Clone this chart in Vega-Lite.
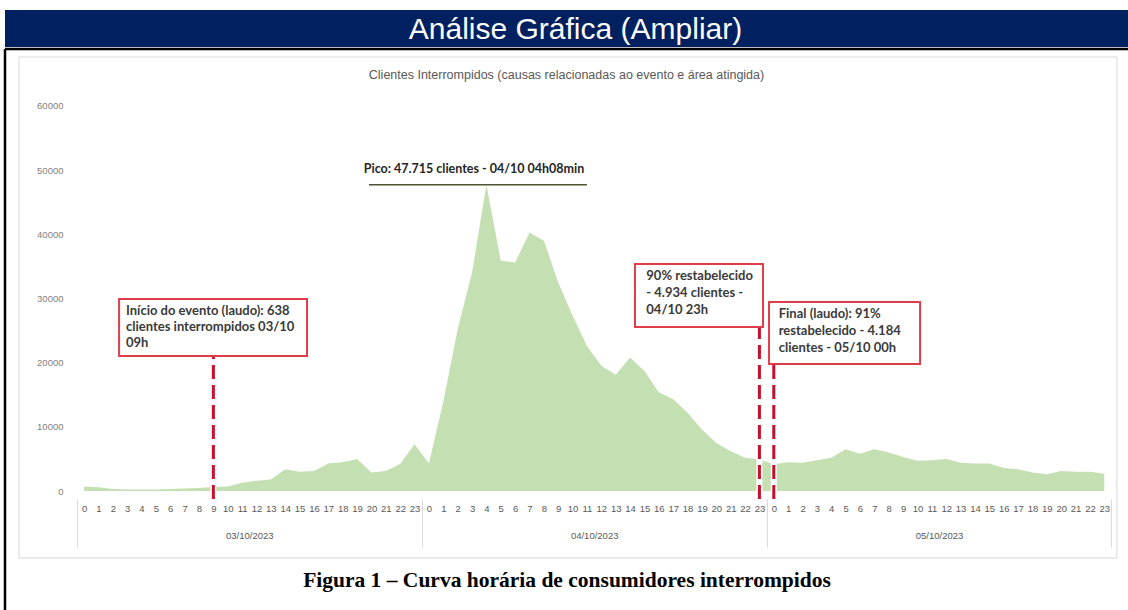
{
  "$schema": "https://vega.github.io/schema/vega-lite/v6.json",
  "padding": {"left": 3, "top": 10, "right": 0, "bottom": 0},
  "spacing": 0,
  "config": {
    "view": {"stroke": null},
    "axis": {"labelFont": "Liberation Sans", "titleFont": "Liberation Sans"},
    "text": {"font": "Liberation Sans"}
  },
  "datasets": {
    "curva": [
      {"indice": 0, "dia": "03/10/2023", "hora": 0, "clientes": 700},
      {"indice": 1, "dia": "03/10/2023", "hora": 1, "clientes": 600},
      {"indice": 2, "dia": "03/10/2023", "hora": 2, "clientes": 300},
      {"indice": 3, "dia": "03/10/2023", "hora": 3, "clientes": 250},
      {"indice": 4, "dia": "03/10/2023", "hora": 4, "clientes": 250},
      {"indice": 5, "dia": "03/10/2023", "hora": 5, "clientes": 250},
      {"indice": 6, "dia": "03/10/2023", "hora": 6, "clientes": 300},
      {"indice": 7, "dia": "03/10/2023", "hora": 7, "clientes": 400},
      {"indice": 8, "dia": "03/10/2023", "hora": 8, "clientes": 450},
      {"indice": 9, "dia": "03/10/2023", "hora": 9, "clientes": 638},
      {"indice": 10, "dia": "03/10/2023", "hora": 10, "clientes": 700},
      {"indice": 11, "dia": "03/10/2023", "hora": 11, "clientes": 1300},
      {"indice": 12, "dia": "03/10/2023", "hora": 12, "clientes": 1600},
      {"indice": 13, "dia": "03/10/2023", "hora": 13, "clientes": 1800},
      {"indice": 14, "dia": "03/10/2023", "hora": 14, "clientes": 3400},
      {"indice": 15, "dia": "03/10/2023", "hora": 15, "clientes": 3000},
      {"indice": 16, "dia": "03/10/2023", "hora": 16, "clientes": 3100},
      {"indice": 17, "dia": "03/10/2023", "hora": 17, "clientes": 4300},
      {"indice": 18, "dia": "03/10/2023", "hora": 18, "clientes": 4500},
      {"indice": 19, "dia": "03/10/2023", "hora": 19, "clientes": 5000},
      {"indice": 20, "dia": "03/10/2023", "hora": 20, "clientes": 2900},
      {"indice": 21, "dia": "03/10/2023", "hora": 21, "clientes": 3100},
      {"indice": 22, "dia": "03/10/2023", "hora": 22, "clientes": 4200},
      {"indice": 23, "dia": "03/10/2023", "hora": 23, "clientes": 7300},
      {"indice": 24, "dia": "04/10/2023", "hora": 0, "clientes": 4300},
      {"indice": 25, "dia": "04/10/2023", "hora": 1, "clientes": 13900},
      {"indice": 26, "dia": "04/10/2023", "hora": 2, "clientes": 25200},
      {"indice": 27, "dia": "04/10/2023", "hora": 3, "clientes": 34000},
      {"indice": 28, "dia": "04/10/2023", "hora": 4, "clientes": 47715},
      {"indice": 29, "dia": "04/10/2023", "hora": 5, "clientes": 35900},
      {"indice": 30, "dia": "04/10/2023", "hora": 6, "clientes": 35600},
      {"indice": 31, "dia": "04/10/2023", "hora": 7, "clientes": 40300},
      {"indice": 32, "dia": "04/10/2023", "hora": 8, "clientes": 39000},
      {"indice": 33, "dia": "04/10/2023", "hora": 9, "clientes": 32500},
      {"indice": 34, "dia": "04/10/2023", "hora": 10, "clientes": 27300},
      {"indice": 35, "dia": "04/10/2023", "hora": 11, "clientes": 22600},
      {"indice": 36, "dia": "04/10/2023", "hora": 12, "clientes": 19500},
      {"indice": 37, "dia": "04/10/2023", "hora": 13, "clientes": 18100},
      {"indice": 38, "dia": "04/10/2023", "hora": 14, "clientes": 20800},
      {"indice": 39, "dia": "04/10/2023", "hora": 15, "clientes": 18700},
      {"indice": 40, "dia": "04/10/2023", "hora": 16, "clientes": 15400},
      {"indice": 41, "dia": "04/10/2023", "hora": 17, "clientes": 14300},
      {"indice": 42, "dia": "04/10/2023", "hora": 18, "clientes": 12200},
      {"indice": 43, "dia": "04/10/2023", "hora": 19, "clientes": 9600},
      {"indice": 44, "dia": "04/10/2023", "hora": 20, "clientes": 7500},
      {"indice": 45, "dia": "04/10/2023", "hora": 21, "clientes": 6200},
      {"indice": 46, "dia": "04/10/2023", "hora": 22, "clientes": 5200},
      {"indice": 47, "dia": "04/10/2023", "hora": 23, "clientes": 4934},
      {"indice": 48, "dia": "05/10/2023", "hora": 0, "clientes": 4184},
      {"indice": 49, "dia": "05/10/2023", "hora": 1, "clientes": 4500},
      {"indice": 50, "dia": "05/10/2023", "hora": 2, "clientes": 4400},
      {"indice": 51, "dia": "05/10/2023", "hora": 3, "clientes": 4800},
      {"indice": 52, "dia": "05/10/2023", "hora": 4, "clientes": 5200},
      {"indice": 53, "dia": "05/10/2023", "hora": 5, "clientes": 6500},
      {"indice": 54, "dia": "05/10/2023", "hora": 6, "clientes": 5800},
      {"indice": 55, "dia": "05/10/2023", "hora": 7, "clientes": 6500},
      {"indice": 56, "dia": "05/10/2023", "hora": 8, "clientes": 6000},
      {"indice": 57, "dia": "05/10/2023", "hora": 9, "clientes": 5300},
      {"indice": 58, "dia": "05/10/2023", "hora": 10, "clientes": 4700},
      {"indice": 59, "dia": "05/10/2023", "hora": 11, "clientes": 4800},
      {"indice": 60, "dia": "05/10/2023", "hora": 12, "clientes": 5000},
      {"indice": 61, "dia": "05/10/2023", "hora": 13, "clientes": 4400},
      {"indice": 62, "dia": "05/10/2023", "hora": 14, "clientes": 4300},
      {"indice": 63, "dia": "05/10/2023", "hora": 15, "clientes": 4300},
      {"indice": 64, "dia": "05/10/2023", "hora": 16, "clientes": 3600},
      {"indice": 65, "dia": "05/10/2023", "hora": 17, "clientes": 3400},
      {"indice": 66, "dia": "05/10/2023", "hora": 18, "clientes": 2900},
      {"indice": 67, "dia": "05/10/2023", "hora": 19, "clientes": 2600},
      {"indice": 68, "dia": "05/10/2023", "hora": 20, "clientes": 3100},
      {"indice": 69, "dia": "05/10/2023", "hora": 21, "clientes": 3000},
      {"indice": 70, "dia": "05/10/2023", "hora": 22, "clientes": 3000},
      {"indice": 71, "dia": "05/10/2023", "hora": 23, "clientes": 2700}
    ],
    "eventos": [
      {"evento": "Início do evento", "indice": 9, "clientes": 638},
      {"evento": "90% restabelecido", "indice": 47, "clientes": 4934},
      {"evento": "Final", "indice": 48, "clientes": 4184}
    ]
  },
  "vconcat": [
    {
      "width": 1125,
      "height": 37,
      "view": {"fill": "#002060", "stroke": null},
      "data": {"values": [{"titulo": "Análise Gráfica (Ampliar)"}]},
      "mark": {"type": "text", "color": "#ffffff", "font": "Liberation Sans", "fontSize": 30, "baseline": "middle", "dx": 8, "dy": 1},
      "encoding": {"text": {"field": "titulo", "type": "nominal"}}
    },
    {
      "width": 1123,
      "height": 562,
      "view": {"stroke": null, "fill": "#ffffff"},
      "title": {
        "text": "Clientes Interrompidos (causas relacionadas ao evento e área atingida)",
        "offset": -34,
        "fontSize": 12.5,
        "font": "Liberation Sans",
        "fontWeight": "normal",
        "color": "#595959",
        "anchor": "middle"
      },
      "resolve": {"axis": {"x": "independent", "y": "independent"}},
      "layer": [
        {
          "data": {"values": [{"moldura": "caixa"}]},
          "layer": [
            {
              "mark": {"type": "rule", "color": "#000000", "strokeWidth": 2.5},
              "encoding": {
                "x": {"datum": -5.5, "type": "quantitative", "scale": {"domain": [-5.5, 72.65], "nice": false, "zero": false}, "axis": null},
                "y": {"datum": -18700, "type": "quantitative", "scale": {"domain": [-18700, 68880], "nice": false, "zero": false}, "axis": null},
                "y2": {"datum": 68880}
              }
            },
            {
              "mark": {"type": "rule", "color": "#000000", "strokeWidth": 2.5},
              "encoding": {
                "x": {"datum": -5.5, "type": "quantitative", "scale": {"domain": [-5.5, 72.65], "nice": false, "zero": false}, "axis": null},
                "x2": {"datum": 72.65},
                "y": {"datum": 68880, "type": "quantitative", "scale": {"domain": [-18700, 68880], "nice": false, "zero": false}, "axis": null}
              }
            },
            {
              "mark": {"type": "rect", "fill": null, "stroke": "#d9d9d9", "strokeWidth": 1},
              "encoding": {
                "x": {"datum": -4.53, "type": "quantitative", "scale": {"domain": [-5.5, 72.65], "nice": false, "zero": false}, "axis": null},
                "x2": {"datum": 71.88},
                "y": {"datum": 67633, "type": "quantitative", "scale": {"domain": [-18700, 68880], "nice": false, "zero": false}, "axis": null},
                "y2": {"datum": -10440}
              }
            }
          ]
        },
        {
          "data": {"name": "curva"},
          "mark": {"type": "area", "color": "#c4dfb1", "interpolate": "linear"},
          "encoding": {
            "x": {
              "field": "indice", "type": "quantitative",
              "scale": {"domain": [-5.5, 72.65], "nice": false, "zero": false},
              "axis": {
                "orient": "bottom", "offset": -112, "title": null,
                "values": [0,1,2,3,4,5,6,7,8,9,10,11,12,13,14,15,16,17,18,19,20,21,22,23,24,25,26,27,28,29,30,31,32,33,34,35,36,37,38,39,40,41,42,43,44,45,46,47,48,49,50,51,52,53,54,55,56,57,58,59,60,61,62,63,64,65,66,67,68,69,70,71],
                "labelExpr": "datum.value % 24",
                "ticks": false, "domain": false, "grid": false,
                "labelPadding": 4, "labelFontSize": 9.5, "labelColor": "#595959",
                "labelOverlap": false, "labelFlush": false, "labelBound": false
              }
            },
            "y": {
              "field": "clientes", "type": "quantitative",
              "scale": {"domain": [-18700, 68880], "nice": false, "zero": false},
              "axis": {
                "orient": "left", "offset": -58, "title": null,
                "values": [0, 10000, 20000, 30000, 40000, 50000, 60000],
                "format": "d", "ticks": false, "domain": false, "grid": false,
                "labelPadding": 0, "labelFontSize": 9.5, "labelColor": "#7f7f7f"
              }
            }
          }
        },
        {
          "data": {"values": [{"rotulo": "Pico: 47.715 clientes - 04/10 04h08min", "clientes": 47715}]},
          "layer": [
            {
              "mark": {"type": "rule", "color": "#4b5530", "strokeWidth": 1.6},
              "encoding": {
                "x": {"datum": 19.83, "type": "quantitative", "scale": {"domain": [-5.5, 72.65], "nice": false, "zero": false}, "axis": null},
                "x2": {"datum": 35.0},
                "y": {"field": "clientes", "type": "quantitative", "scale": {"domain": [-18700, 68880], "nice": false, "zero": false}, "axis": null}
              }
            },
            {
              "mark": {"type": "text", "font": "Lato", "fontWeight": "bold", "fontSize": 12.5, "color": "#262626", "baseline": "middle", "align": "center"},
              "encoding": {
                "x": {"datum": 27.14, "type": "quantitative", "scale": {"domain": [-5.5, 72.65], "nice": false, "zero": false}, "axis": null},
                "y": {"datum": 50180, "type": "quantitative", "scale": {"domain": [-18700, 68880], "nice": false, "zero": false}, "axis": null},
                "text": {"field": "rotulo", "type": "nominal"}
              }
            }
          ]
        },
        {
          "data": {"name": "eventos"},
          "mark": {"type": "rule", "color": "#ffffff", "strokeWidth": 6},
          "encoding": {
            "x": {
              "field": "indice", "type": "quantitative",
              "scale": {"domain": [-5.5, 72.65], "nice": false, "zero": false},
              "axis": {
                "orient": "bottom", "offset": -112,
                "values": [11.5, 35.5, 59.5],
                "labelExpr": "['03/10/2023','04/10/2023','05/10/2023'][floor(datum.value / 24)]",
                "ticks": false, "domain": false, "grid": false,
                "labelPadding": 31, "labelFontSize": 9.5, "labelColor": "#595959",
                "labelOverlap": false, "labelFlush": false, "labelBound": false,
                "title": "Figura 1 – Curva horária de consumidores interrompidos",
                "titleFont": "Liberation Serif", "titleFontSize": 21.5, "titleFontWeight": "bold",
                "titleColor": "#000000", "titlePadding": 30
              }
            },
            "y": {"datum": -1250, "type": "quantitative", "scale": {"domain": [-18700, 68880], "nice": false, "zero": false}, "axis": null},
            "y2": {"datum": 26000}
          }
        },
        {
          "data": {"name": "eventos"},
          "mark": {"type": "rule", "color": "#c8102e", "strokeWidth": 3, "strokeDash": [14, 6]},
          "encoding": {
            "x": {
              "field": "indice", "type": "quantitative",
              "scale": {"domain": [-5.5, 72.65], "nice": false, "zero": false},
              "axis": {
                "orient": "bottom", "offset": -112, "title": null,
                "values": [-0.5, 23.5, 47.5, 71.5],
                "labels": false, "domain": false, "grid": false,
                "ticks": true, "tickSize": 48, "tickColor": "#d9d9d9", "tickWidth": 1
              }
            },
            "y": {"datum": -1250, "type": "quantitative", "scale": {"domain": [-18700, 68880], "nice": false, "zero": false}, "axis": null},
            "y2": {"datum": 26000}
          }
        },
        {
          "data": {"values": [{"evento": "Início do evento", "texto": "Início do evento (laudo): 638\nclientes interrompidos 03/10\n09h"}]},
          "layer": [
            {
              "mark": {"type": "rect", "fill": "#ffffff", "stroke": "#e03c4a", "strokeWidth": 2},
              "encoding": {
                "x": {"datum": 2.44, "type": "quantitative", "scale": {"domain": [-5.5, 72.65], "nice": false, "zero": false}, "axis": null},
                "x2": {"datum": 15.52},
                "y": {"datum": 29920, "type": "quantitative", "scale": {"domain": [-18700, 68880], "nice": false, "zero": false}, "axis": null},
                "y2": {"datum": 21040}
              }
            },
            {
              "mark": {"type": "text", "font": "Lato", "fontWeight": "bold", "fontSize": 13, "color": "#3a3a3a", "align": "left", "baseline": "top", "lineBreak": "\n", "lineHeight": 16},
              "encoding": {
                "x": {"datum": 2.92, "type": "quantitative", "scale": {"domain": [-5.5, 72.65], "nice": false, "zero": false}, "axis": null},
                "y": {"datum": 29063, "type": "quantitative", "scale": {"domain": [-18700, 68880], "nice": false, "zero": false}, "axis": null},
                "text": {"field": "texto", "type": "nominal"}
              }
            }
          ]
        },
        {
          "data": {"values": [{"evento": "90% restabelecido", "texto": "90% restabelecido\n- 4.934 clientes -\n04/10 23h"}]},
          "layer": [
            {
              "mark": {"type": "rect", "fill": "#ffffff", "stroke": "#e03c4a", "strokeWidth": 2},
              "encoding": {
                "x": {"datum": 38.34, "type": "quantitative", "scale": {"domain": [-5.5, 72.65], "nice": false, "zero": false}, "axis": null},
                "x2": {"datum": 47.25},
                "y": {"datum": 35375, "type": "quantitative", "scale": {"domain": [-18700, 68880], "nice": false, "zero": false}, "axis": null},
                "y2": {"datum": 25557}
              }
            },
            {
              "mark": {"type": "text", "font": "Lato", "fontWeight": "bold", "fontSize": 13, "color": "#3a3a3a", "align": "left", "baseline": "top", "lineBreak": "\n", "lineHeight": 17},
              "encoding": {
                "x": {"datum": 39.13, "type": "quantitative", "scale": {"domain": [-5.5, 72.65], "nice": false, "zero": false}, "axis": null},
                "y": {"datum": 34440, "type": "quantitative", "scale": {"domain": [-18700, 68880], "nice": false, "zero": false}, "axis": null},
                "text": {"field": "texto", "type": "nominal"}
              }
            }
          ]
        },
        {
          "data": {"values": [{"evento": "Final", "texto": "Final (laudo): 91%\nrestabelecido - 4.184\nclientes - 05/10 00h"}]},
          "layer": [
            {
              "mark": {"type": "rect", "fill": "#ffffff", "stroke": "#e03c4a", "strokeWidth": 2},
              "encoding": {
                "x": {"datum": 47.67, "type": "quantitative", "scale": {"domain": [-5.5, 72.65], "nice": false, "zero": false}, "axis": null},
                "x2": {"datum": 58.18},
                "y": {"datum": 29453, "type": "quantitative", "scale": {"domain": [-18700, 68880], "nice": false, "zero": false}, "axis": null},
                "y2": {"datum": 19791}
              }
            },
            {
              "mark": {"type": "text", "font": "Lato", "fontWeight": "bold", "fontSize": 13, "color": "#3a3a3a", "align": "left", "baseline": "top", "lineBreak": "\n", "lineHeight": 17},
              "encoding": {
                "x": {"datum": 48.34, "type": "quantitative", "scale": {"domain": [-5.5, 72.65], "nice": false, "zero": false}, "axis": null},
                "y": {"datum": 28596, "type": "quantitative", "scale": {"domain": [-18700, 68880], "nice": false, "zero": false}, "axis": null},
                "text": {"field": "texto", "type": "nominal"}
              }
            }
          ]
        }
      ]
    }
  ]
}
